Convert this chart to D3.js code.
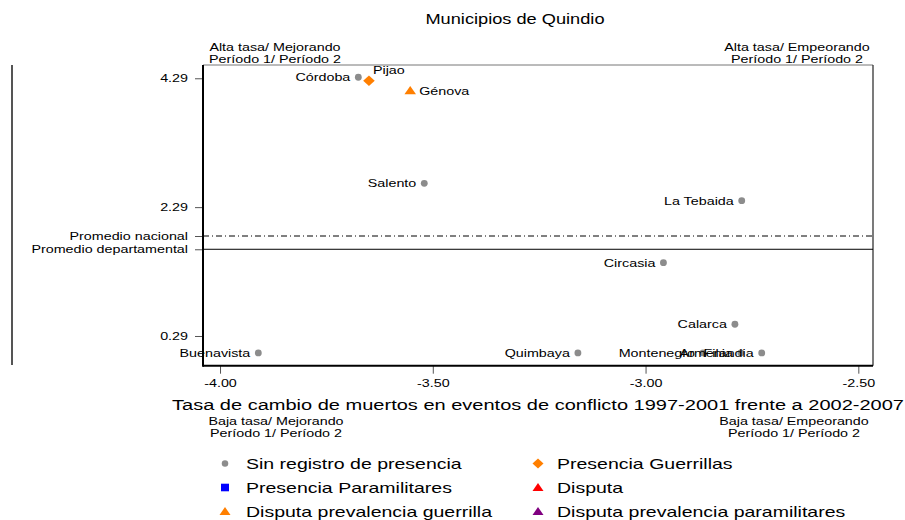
<!DOCTYPE html>
<html>
<head>
<meta charset="utf-8">
<script src="https://cdn.jsdelivr.net/npm/d3@7"></script>
<style>
  body { margin: 0; background: #fff; }
  svg { display: block; }
  text { font-family: "Liberation Sans", Arial, sans-serif; fill: #000; }
</style>
</head>
<body>
<svg id="chart" width="905" height="520"></svg>
<script>
// data
const municipios = ["Córdoba", "Pijao", "Génova", "Salento", "La Tebaida", "Circasia",
                    "Calarca", "Quimbaya", "Buenavista", "Montenegro", "Armenia", "Filandia"];
const tasaCambio = [-3.675, -3.650, -3.553, -3.520, -2.774, -2.958,
                    -2.790, -3.159, -3.910, -2.865, -2.776, -2.727];
const tasaMuertes = [4.306, 4.253, 4.098, 2.660, 2.390, 1.428,
                     0.472, 0.027, 0.027, 0.027, 0.027, 0.027];
const grupoMunicipio = [0, 1, 4, 0, 0, 0, 0, 0, 0, 0, 0, 0];
const posEtiqueta = ["left", "top", "right", "left", "left", "left",
                     "left", "left", "left", "left", "left", "left"];

const grupos = ["Sin registro de presencia", "Presencia Guerrillas", "Presencia Paramilitares",
                "Disputa", "Disputa prevalencia guerrilla", "Disputa prevalencia paramilitares"];
const grupoColor = ["#8c8c8c", "#ff7f00", "#0000ff", "#ff0000", "#ff7f00", "#800080"];
const grupoForma = ["circle", "diamond", "square", "triangle", "triangle", "triangle"];

const xTicks = [-4.0, -3.5, -3.0, -2.5];
const yTicks = [0.29, 2.29, 4.29];
const promedios = [1.842, 1.636];
const promedioLabels = ["Promedio nacional", "Promedio departamental"];

const SX = 1.3; // the source picture is stretched sideways

const svg = d3.select("#chart");
const plotLeft = 203, plotRight = 873, plotTop = 65, plotBottom = 365.7;

const x = d3.scaleLinear().domain([-4.040, -2.4655]).range([plotLeft, plotRight]);
const y = d3.scaleLinear().domain([-0.171, 4.496]).range([plotBottom, plotTop]);

const fmt = d3.formatLocale({decimal: ".", thousands: ",", grouping: [3], currency: ["", ""], minus: "-"}).format(".2f");

function shape(kind, s) {
  const p = d3.path();
  if (kind === "circle") {
    p.arc(0, 0, s * 0.36, 0, 2 * Math.PI);
  } else if (kind === "diamond") {
    p.moveTo(0, -s * 0.5); p.lineTo(s * 0.55, 0); p.lineTo(0, s * 0.5); p.lineTo(-s * 0.55, 0); p.closePath();
  } else if (kind === "square") {
    p.rect(-s * 0.4, -s * 0.38, s * 0.8, s * 0.76);
  } else {
    p.moveTo(0, -s * 0.45); p.lineTo(s * 0.55, s * 0.35); p.lineTo(-s * 0.55, s * 0.35); p.closePath();
  }
  return p.toString();
}

// title
svg.append("text").attr("x", 515).attr("y", 24).attr("text-anchor", "middle")
  .attr("font-size", 14).text("Municipios de Quindio");

// corner notes
const notas = [
  {x: 275, y: 51, a: "Alta tasa/ Mejorando"},
  {x: 797, y: 51, a: "Alta tasa/ Empeorando"},
  {x: 276, y: 425, a: "Baja tasa/ Mejorando"},
  {x: 794, y: 425, a: "Baja tasa/ Empeorando"}
];
notas.forEach(n => {
  const t = svg.append("text").attr("text-anchor", "middle").attr("font-size", 11);
  t.append("tspan").attr("x", n.x).attr("y", n.y).text(n.a);
  t.append("tspan").attr("x", n.x).attr("y", n.y + 11.5).text("Período 1/ Período 2");
});

// left bar
svg.append("line").attr("x1", 12).attr("x2", 12).attr("y1", 65).attr("y2", 365)
  .attr("stroke", "#555").attr("stroke-width", 2);

// frame
svg.append("line").attr("x1", plotLeft).attr("x2", plotRight).attr("y1", plotTop).attr("y2", plotTop)
  .attr("stroke", "#777").attr("stroke-width", 1);
svg.append("line").attr("x1", plotRight).attr("x2", plotRight).attr("y1", plotTop).attr("y2", plotBottom)
  .attr("stroke", "#333").attr("stroke-width", 1.3);

// average lines
svg.append("line").attr("x1", plotLeft).attr("x2", plotRight).attr("y1", y(promedios[0])).attr("y2", y(promedios[0]))
  .attr("stroke", "#000").attr("stroke-width", 1).attr("stroke-dasharray", "6,3,1,3");
svg.append("line").attr("x1", plotLeft).attr("x2", plotRight).attr("y1", y(promedios[1])).attr("y2", y(promedios[1]))
  .attr("stroke", "#000").attr("stroke-width", 1);

// axes
const yAxis = svg.append("g").attr("transform", `translate(${plotLeft},0)`)
  .call(d3.axisLeft(y).tickValues(yTicks).tickFormat(fmt).tickSize(8).tickPadding(7));
const pAxis = svg.append("g").attr("transform", `translate(${plotLeft},0)`)
  .call(d3.axisLeft(y).tickValues(promedios).tickFormat((d, i) => promedioLabels[i]).tickSize(8).tickPadding(7));
const xAxis = svg.append("g").attr("transform", `translate(0,${plotBottom})`)
  .call(d3.axisBottom(x).tickValues(xTicks).tickFormat(fmt).tickSize(8).tickPadding(6));

[yAxis, pAxis, xAxis].forEach(g => {
  g.select(".domain").remove();
  g.selectAll(".tick line").attr("stroke", "#555");
  g.selectAll("text").attr("font-size", 11).attr("font-family", null).attr("fill", "#000");
});

svg.append("line").attr("x1", plotLeft).attr("x2", plotLeft).attr("y1", plotTop).attr("y2", plotBottom + 1)
  .attr("stroke", "#000").attr("stroke-width", 2);
svg.append("line").attr("x1", plotLeft).attr("x2", plotRight).attr("y1", plotBottom).attr("y2", plotBottom)
  .attr("stroke", "#000").attr("stroke-width", 2);

svg.append("text").attr("x", 538).attr("y", 410).attr("text-anchor", "middle").attr("font-size", 15.4)
  .text("Tasa de cambio de muertos en eventos de conflicto 1997-2001 frente a 2002-2007");

// points
const puntos = municipios.map((m, i) => ({
  nombre: m, cx: tasaCambio[i], cy: tasaMuertes[i], g: grupoMunicipio[i], pos: posEtiqueta[i]
}));

svg.selectAll("path.punto")
  .data(puntos)
  .join("path")
  .attr("class", "punto")
  .attr("transform", d => `translate(${x(d.cx)},${y(d.cy)})`)
  .attr("d", d => shape(grupoForma[d.g], d.g === 0 ? 9.5 : 10.5))
  .attr("fill", d => grupoColor[d.g]);

svg.selectAll("text.etiqueta")
  .data(puntos)
  .join("text")
  .attr("class", "etiqueta")
  .attr("font-size", 11)
  .attr("x", d => d.pos === "left" ? x(d.cx) - 8 : d.pos === "right" ? x(d.cx) + 9 : x(d.cx) + 4)
  .attr("y", d => d.pos === "top" ? y(d.cy) - 7 : y(d.cy) + 4)
  .attr("text-anchor", d => d.pos === "left" ? "end" : "start")
  .text(d => d.nombre);

// legend
const leyenda = svg.selectAll("g.leyenda")
  .data(grupos)
  .join("g")
  .attr("class", "leyenda")
  .attr("transform", (d, i) => `translate(${i % 2 === 0 ? 225 : 538},${463.5 + Math.floor(i / 2) * 24})`);

leyenda.append("path")
  .attr("d", (d, i) => shape(grupoForma[i], i === 0 ? 9 : 10))
  .attr("fill", (d, i) => grupoColor[i]);

leyenda.append("text")
  .attr("x", (d, i) => i % 2 === 0 ? 21 : 19)
  .attr("y", 5.5)
  .attr("font-size", 15)
  .text(d => d);

// stretch all text sideways like the source
svg.selectAll("text").each(function() {
  const kids = d3.select(this).selectAll("tspan");
  if (kids.size()) {
    kids.each(function() {
      d3.select(this).attr("textLength", this.getComputedTextLength() * SX).attr("lengthAdjust", "spacingAndGlyphs");
    });
  } else {
    d3.select(this).attr("textLength", this.getComputedTextLength() * SX).attr("lengthAdjust", "spacingAndGlyphs");
  }
});
</script>
</body>
</html>
